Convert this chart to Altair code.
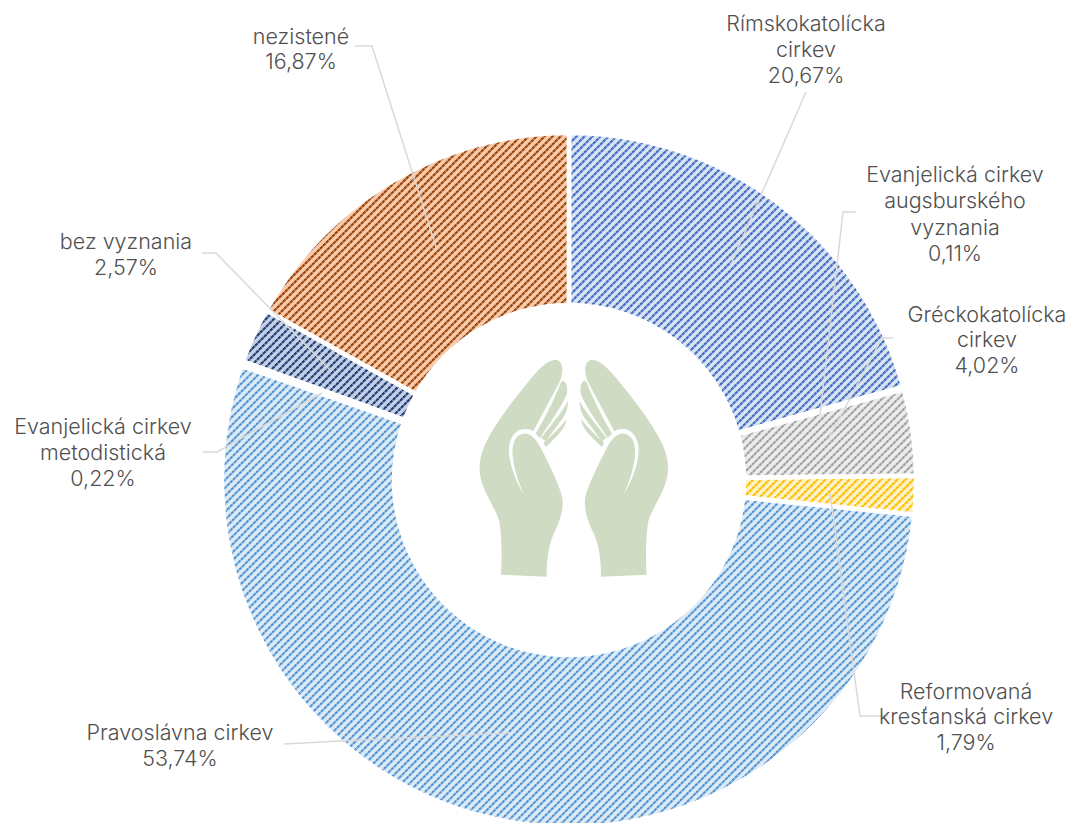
import math
import altair as alt
import pandas as pd

# ---- data
categories = ["Rímskokatolícka cirkev", "Evanjelická cirkev augsburského vyznania", "Gréckokatolícka cirkev",
              "Reformovaná kresťanská cirkev", "Pravoslávna cirkev", "Evanjelická cirkev metodistická",
              "bez vyznania", "nezistené"]
values = [20.67, 0.11, 4.02, 1.79, 53.74, 0.22, 2.57, 16.87]
fg_colors = ["#4472C4", "#ED7D31", "#A5A5A5", "#FFC000", "#5B9BD5", "#70AD47", "#264478", "#9E480E"]
bg_colors = ["#DAE3F3", "#FBE5D6", "#EDEDED", "#FFF2CC", "#DEEBF7", "#E2F0D9", "#C5D0E6", "#F8CBAD"]

label_lines = ["Rímskokatolícka", "cirkev", "20,67%",
               "Evanjelická cirkev", "augsburského", "vyznania", "0,11%",
               "Gréckokatolícka", "cirkev", "4,02%",
               "Reformovaná", "kresťanská cirkev", "1,79%",
               "Pravoslávna cirkev", "53,74%",
               "Evanjelická cirkev", "metodistická", "0,22%",
               "bez vyznania", "2,57%",
               "nezistené", "16,87%"]
label_px = [806, 806, 806, 955, 955, 955, 955, 987, 987, 987, 966, 966, 966, 180, 180, 103, 103, 103, 126, 126, 301, 301]
label_py = [25, 51, 77, 176, 202, 229, 255, 316, 341, 367, 693, 718, 744, 734, 760, 428, 454, 480, 243, 269, 38, 63]

leader_id = [0, 0, 1, 1, 1, 2, 2, 2, 3, 3, 3, 4, 4, 4, 5, 5, 5, 6, 6, 6, 7, 7, 7]
leader_px = [806, 731, 856, 843, 820, 893, 882, 828, 888, 860, 830, 284, 340, 510, 203, 217, 322, 202, 216, 330, 355, 372, 437]
leader_py = [92, 264, 212, 212, 415, 338, 338, 440, 716, 716, 493, 744, 741, 733, 452, 452, 393, 253, 253, 370, 46, 46, 250]

# ---- layout (page pixels; the page margin is 8)
W, H = 1059, 815
MARGIN = 8
CX, CY, R, R2 = 569, 480, 347, 175
STRIPE = 8.0      # period of the hatch, measured along x+y
DOT = 6.0         # period of the dots along a stripe, measured along x-y
INK = 0.24        # part of a period that is foreground
ICON_CX, ICON_CY = 573.8, 468

total = sum(values)
starts, ends, c = [], [], 0.0
for v in values:
    starts.append(c); c += v; ends.append(c)

def bbox(t0, t1):
    a0, a1 = t0 / total * 2 * math.pi, t1 / total * 2 * math.pi
    pts = []
    angs = [a0, a1] + [k * math.pi / 2 for k in range(5) if a0 < k * math.pi / 2 < a1]
    for a in angs:
        for r in (R, R2):
            pts.append((CX + r * math.sin(a), CY - r * math.cos(a)))
    return min(p[0] for p in pts), max(p[0] for p in pts), min(p[1] for p in pts), max(p[1] for p in pts)

def stripes(t0, t1, period, pattern, rising):
    """Repeating 45-degree stripes as a linear gradient on the arc's bounding box."""
    x0, x1, y0, y1 = bbox(t0, t1)
    w, h = x1 - x0, y1 - y0
    span = w + h
    a, b = w / span, h / span
    n = a * a + b * b
    origin = x0 + y0 if rising else x0 - y1
    stops = []
    k = math.floor(origin / period)
    while True:
        s = k * period - origin
        if s / span > 1:
            break
        for frac, col in pattern:
            o = (s + frac * period) / span
            if 0 <= o <= 1:
                stops.append({"offset": round(o, 5), "color": col})
        k += 1
    if len(stops) < 2:
        col = pattern[-1][1]
        stops = [{"offset": 0, "color": col}, {"offset": 1, "color": col}]
    if rising:
        return {"gradient": "linear", "x1": 0, "y1": 0, "x2": a / n, "y2": b / n, "stops": stops}
    return {"gradient": "linear", "x1": 0, "y1": 1, "x2": a / n, "y2": 1 - b / n, "stops": stops}

def rgba(hex_col, alpha):
    r, g, bl = int(hex_col[1:3], 16), int(hex_col[3:5], 16), int(hex_col[5:7], 16)
    return f"rgba({r},{g},{bl},{alpha})"

xs = alt.Scale(domain=[0, W], range=[0, W])
ys = alt.Scale(domain=[0, H], range=[0, H])
ts = alt.Scale(domain=[0, total], range=[0, 2 * math.pi])
X = lambda f: alt.X(f, type="quantitative", scale=xs, axis=None)
Y = lambda f: alt.Y(f, type="quantitative", scale=ys, axis=None)

def arc_enc(ch):
    return ch.encode(theta=alt.Theta("start:Q", scale=ts), theta2="end:Q", x=X("cx"), y=Y("cy"))

layers, borders = [], []
for i, name in enumerate(categories):
    d = pd.DataFrame({"name": [name], "start": [starts[i]], "end": [ends[i]],
                      "cx": [CX - MARGIN], "cy": [CY - MARGIN]})
    fg, bg = fg_colors[i], bg_colors[i]
    base = [(0, fg), (INK, fg), (INK + .15, bg), (.85, bg)]
    clear, veil = rgba(bg, 0), rgba(bg, .4)
    dots = [(0, clear), (.5, clear), (.6, veil), (.9, veil)]
    layers.append(arc_enc(alt.Chart(d).mark_arc(radius=R, radius2=R2,
                                                fill=stripes(starts[i], ends[i], STRIPE, base, True))))
    layers.append(arc_enc(alt.Chart(d).mark_arc(radius=R, radius2=R2,
                                                fill=stripes(starts[i], ends[i], DOT, dots, False))))
    borders.append(arc_enc(alt.Chart(d).mark_arc(radius=R, radius2=R2, filled=False,
                                                 stroke="white", strokeWidth=4.5)))
layers += borders

df_lead = pd.DataFrame({"id": leader_id, "x": [v - MARGIN for v in leader_px], "y": [v - MARGIN for v in leader_py],
                        "o": list(range(len(leader_id)))})
layers.append(alt.Chart(df_lead).mark_line(color="#D9D9D9", strokeWidth=1.5).encode(
    x=X("x"), y=Y("y"), detail="id:N", order="o:Q"))

# ---- icon: two cupped hands, as a custom symbol
HAND = ("M 345 90 C 320 92 295 120 270 150 C 225 205 165 280 135 345 C 118 385 112 420 128 465 "
        "C 140 500 170 545 178 575 C 186 620 186 690 183 735 L 320 741 C 320 690 325 650 340 615 "
        "C 355 585 370 550 368 510 C 362 470 320 390 300 350 C 285 325 270 310 250 312 "
        "C 225 315 215 345 218 375 C 220 415 238 465 252 495 C 230 460 205 400 207 355 "
        "C 210 320 230 298 255 298 C 265 298 272 300 280 305 C 305 255 340 195 362 150 "
        "C 370 125 372 92 345 90 Z "
        "M 368 153 C 380 155 384 175 380 195 C 360 240 325 285 300 325 L 287 312 C 315 265 345 205 362 160 Z "
        "M 384 215 C 384 235 378 255 365 270 L 317 335 L 304 324 C 330 290 365 250 384 215 Z "
        "M 380 268 C 378 290 360 310 345 325 L 318 352 L 310 340 C 335 318 360 295 380 268 Z")

def unit_path(src, mirror):
    toks = src.split()
    out, is_x = [], True
    for t in toks:
        if t.isalpha():
            out.append(t); is_x = True
        elif is_x:
            v = float(t)
            v = 803 - v if mirror else v
            out.append(f"{(v - 401.5) / 100:.3f}"); is_x = False
        else:
            out.append(f"{(float(t) - 415) / 100:.3f}"); is_x = True
    return " ".join(out)

icon = pd.DataFrame({"x": [ICON_CX - MARGIN], "y": [ICON_CY - MARGIN]})
layers.append(alt.Chart(icon).mark_point(shape=unit_path(HAND, False) + " " + unit_path(HAND, True),
                                         filled=True, opacity=1, fill="#CFDBC3", strokeWidth=0,
                                         size=(200 / 3) ** 2).encode(x=X("x"), y=Y("y")))

df_lab = pd.DataFrame({"t": label_lines, "x": [v - MARGIN for v in label_px], "y": [v - MARGIN for v in label_py]})
layers.append(alt.Chart(df_lab).mark_text(font="Inter", fontSize=21.5, fontWeight=300, color="#505050", align="center",
                                          baseline="middle").encode(x=X("x"), y=Y("y"), text="t:N"))

chart = alt.layer(*layers).properties(width=W, height=H, padding=0, autosize=alt.AutoSizeParams(type="none"),
                                      background="white").configure_view(stroke=None)
chart.save("out.html", embed_options={"renderer": "svg", "actions": False})
